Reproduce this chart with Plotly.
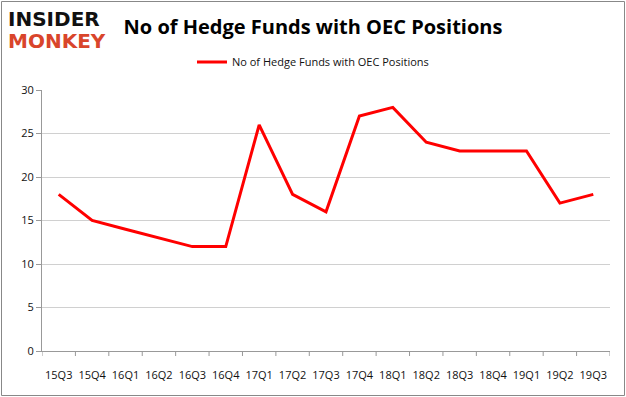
import plotly.graph_objects as go

quarters = ["15Q3", "15Q4", "16Q1", "16Q2", "16Q3", "16Q4", "17Q1", "17Q2", "17Q3",
            "17Q4", "18Q1", "18Q2", "18Q3", "18Q4", "19Q1", "19Q2", "19Q3"]
funds = [18, 15, 14, 13, 12, 12, 26, 18, 16, 27, 28, 24, 23, 23, 23, 17, 18]
y_ticks = [0, 5, 10, 15, 20, 25, 30]
series_name = "No of Hedge Funds with OEC Positions"

W, H = 626, 397
L, R, T, B = 42, 16, 90, 46
PW, PH = W - L - R, H - T - B

def px_x(p):
    return (p - L) / PW

def px_y(p):
    return (H - B - p) / PH

fig = go.Figure()
fig.add_trace(go.Scatter(x=list(range(len(quarters))), y=funds, mode="lines",
                         name=series_name, line=dict(color="#ff0000", width=3)))

fig.update_layout(
    width=W, height=H,
    paper_bgcolor="white", plot_bgcolor="white",
    margin=dict(l=L, r=R, t=T, b=B, autoexpand=False),
    font=dict(family="Open Sans, Liberation Sans, sans-serif", size=11, color="#111"),
    title=dict(text="<b>No of Hedge Funds with OEC Positions</b>", x=px_x(313), xanchor="center",
               xref="paper", yref="container", y=1 - 27 / H, yanchor="middle",
               font=dict(size=20, color="black", family="Open Sans, Liberation Sans, sans-serif")),
    showlegend=True,
    legend=dict(orientation="h", x=px_x(313), xanchor="center", yref="container",
                y=1 - 62 / H, yanchor="middle",
                font=dict(size=11, color="#111"), bgcolor="rgba(0,0,0,0)"),
    xaxis=dict(range=[-0.5, len(quarters) - 0.5], tickmode="array",
               tickvals=list(range(len(quarters))), ticktext=quarters,
               showgrid=False, showline=True, linecolor="#999", linewidth=1,
               ticks="", ticklabelstandoff=14, zeroline=False,
               tickfont=dict(size=11, color="#111")),
    yaxis=dict(range=[0, 30], tickvals=y_ticks, showgrid=True, gridcolor="#d0d0d0",
               gridwidth=1, showline=True, linecolor="#999", ticks="outside",
               ticklen=5, tickcolor="#999", zeroline=False,
               tickfont=dict(size=11, color="#111")),
)

shapes = []
for i in range(len(quarters) + 1):
    shapes.append(dict(type="line", xref="x", yref="paper", x0=i - 0.5, x1=i - 0.5,
                       y0=0, y1=px_y(356), line=dict(color="#999", width=1)))
shapes.append(dict(type="rect", xref="paper", yref="paper", x0=px_x(1.5), x1=px_x(624.5),
                   y0=px_y(395.5), y1=px_y(1.5), line=dict(color="#888", width=1)))
fig.update_layout(shapes=shapes)

fig.add_annotation(text="<b>INSIDER</b>", xref="paper", yref="paper",
                   x=px_x(6), y=px_y(19), xanchor="left", yanchor="middle",
                   showarrow=False, font=dict(size=20, color="#111", family="DejaVu Sans"))
fig.add_annotation(text="<b>MONKEY</b>", xref="paper", yref="paper",
                   x=px_x(6), y=px_y(41), xanchor="left", yanchor="middle",
                   showarrow=False, font=dict(size=20, color="#d9452b", family="DejaVu Sans"))

fig.write_html("out.html", config={"displayModeBar": False},
               post_script="document.body.style.margin='0';")
